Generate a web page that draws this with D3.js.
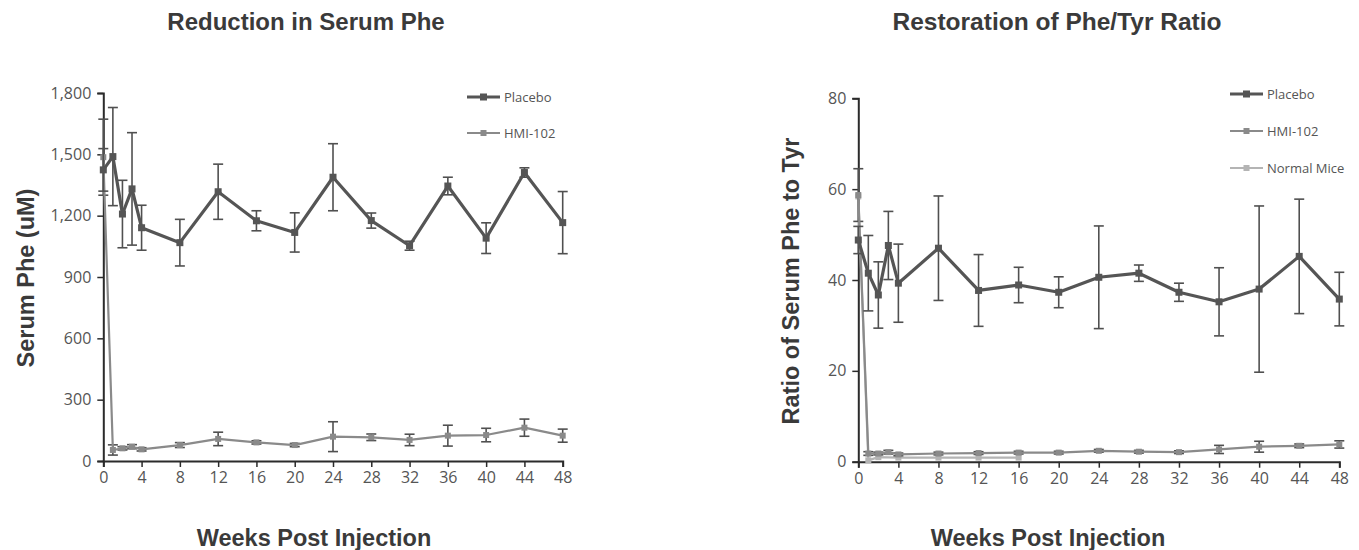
<!DOCTYPE html>
<html>
<head>
<meta charset="utf-8">
<script src="https://cdn.jsdelivr.net/npm/d3@7"></script>
<style>
  body { margin: 0; background: #fff; }
  .title, .axis-label { font-family: "Liberation Sans", Arial, sans-serif; font-weight: bold; fill: #3a3a3a; }
  .tick text, .legend text { font-family: "Open Sans", "Noto Sans", sans-serif; fill: #555; }
</style>
</head>
<body>
<svg id="chart" width="1359" height="550"></svg>
<script>
// weeks after injection, shared by both panels
const weeks = [0, 1, 2, 3, 4, 8, 12, 16, 20, 24, 28, 32, 36, 40, 44, 48];
const weekTicks = [0, 4, 8, 12, 16, 20, 24, 28, 32, 36, 40, 44, 48];

// serum Phe (uM), mean and error
const phePlacebo    = [1424, 1489, 1208, 1331, 1141, 1068, 1317, 1175, 1118, 1388, 1176, 1053, 1345, 1090, 1411, 1166];
const phePlaceboErr = [104, 240, 165, 275, 110, 114, 135, 49, 96, 164, 37, 22, 43, 75, 23, 152];
const pheHmi        = [1486, 54, 62, 70, 57, 78, 108, 91, 78, 119, 116, 103, 124, 127, 163, 124];
const pheHmiErr     = [186, 25, 8, 10, 8, 12, 33, 8, 8, 73, 16, 28, 51, 33, 42, 32];
const pheTicks = [0, 300, 600, 900, 1200, 1500, 1800];

// Phe/Tyr ratio, mean and error
const ratioPlacebo    = [48.8, 41.5, 36.7, 47.6, 39.3, 47.0, 37.7, 38.9, 37.3, 40.6, 41.5, 37.3, 35.2, 38.0, 45.2, 35.8];
const ratioPlaceboErr = [3, 8.3, 7.3, 7.5, 8.6, 11.5, 7.9, 3.9, 3.4, 11.3, 1.8, 2.0, 7.5, 18.3, 12.6, 5.9];
const ratioHmi        = [58.7, 1.8, 1.8, 2.1, 1.6, 1.8, 1.9, 2.0, 2.0, 2.4, 2.2, 2.1, 2.7, 3.3, 3.5, 3.8];
const ratioHmiErr     = [5.8, 0.4, 0.3, 0.4, 0.3, 0.3, 0.3, 0.3, 0.3, 0.3, 0.3, 0.3, 0.9, 1.2, 0.4, 0.8];
const normalWeeks = [0, 1, 2, 4, 8, 12, 16];
const ratioNormal = [58.4, 0.3, 1.0, 0.9, 0.9, 0.9, 0.9];
const ratioTicks = [0, 20, 40, 60, 80];

const colors = { placebo: "#555555", hmi: "#8a8a8a", normal: "#b4b4b4", err: "#505050" };

const svg = d3.select("#chart");

function drawPanel(p) {
    const g = svg.append("g");

    const x = d3.scaleLinear().domain([0, 48]).range([p.left, p.right]);
    const y = d3.scaleLinear().domain([0, p.yMax]).range([p.bottom, p.top]);

    // axes
    const yAxis = g.append("g")
        .attr("transform", `translate(${p.left},0)`)
        .call(d3.axisLeft(y).tickValues(p.yTicks).tickSize(6).tickPadding(6).tickFormat(p.fmt));
    const xAxis = g.append("g")
        .attr("transform", `translate(0,${p.bottom})`)
        .call(d3.axisBottom(x).tickValues(weekTicks).tickSize(6).tickPadding(5));
    [xAxis, yAxis].forEach(a => {
        a.select(".domain").attr("stroke", "#2b2b2b").attr("stroke-width", 2);
        a.selectAll(".tick line").attr("stroke", "#2b2b2b").attr("stroke-width", 1.5);
        a.selectAll(".tick text").style("font-size", "16px");
    });

    // series drawn back to front
    p.series.slice().reverse().forEach(s => {
        const pts = s.xs.map((w, i) => ({ w, v: s.values[i], e: s.err ? s.err[i] : 0 }));

        if (s.err) {
            const eb = g.append("g").selectAll("g").data(pts).enter().append("g")
                .attr("stroke", colors.err).attr("stroke-width", 1.6);
            eb.append("line")
                .attr("x1", d => x(d.w)).attr("x2", d => x(d.w))
                .attr("y1", d => y(d.v - d.e)).attr("y2", d => y(d.v + d.e));
            eb.append("line")
                .attr("x1", d => x(d.w) - 5).attr("x2", d => x(d.w) + 5)
                .attr("y1", d => y(d.v + d.e)).attr("y2", d => y(d.v + d.e));
            eb.append("line")
                .attr("x1", d => x(d.w) - 5).attr("x2", d => x(d.w) + 5)
                .attr("y1", d => y(d.v - d.e)).attr("y2", d => y(d.v - d.e));
        }

        g.append("path")
            .datum(pts)
            .attr("fill", "none")
            .attr("stroke", s.color)
            .attr("stroke-width", s.width)
            .attr("stroke-linejoin", "round")
            .attr("d", d3.line().x(d => x(d.w)).y(d => y(d.v)));

        g.append("g").selectAll("rect").data(pts).enter().append("rect")
            .attr("x", d => x(d.w) - s.mark / 2)
            .attr("y", d => y(d.v) - s.mark / 2)
            .attr("width", s.mark).attr("height", s.mark)
            .attr("fill", s.color);
    });

    // legend
    const lg = g.append("g").attr("class", "legend");
    p.series.forEach((s, i) => {
        const ly = p.legendY + i * p.legendGap;
        lg.append("line")
            .attr("x1", p.legendX).attr("x2", p.legendX + 33)
            .attr("y1", ly).attr("y2", ly)
            .attr("stroke", s.color).attr("stroke-width", s.width);
        lg.append("rect")
            .attr("x", p.legendX + 16.5 - s.mark / 2).attr("y", ly - s.mark / 2)
            .attr("width", s.mark).attr("height", s.mark)
            .attr("fill", s.color);
        lg.append("text")
            .attr("x", p.legendX + 37).attr("y", ly + 4.5)
            .style("font-size", "13px")
            .text(s.name);
    });

    // titles
    g.append("text").attr("class", "title")
        .attr("x", p.titleX).attr("y", 30)
        .attr("text-anchor", "middle")
        .style("font-size", p.titleSize + "px")
        .text(p.title);
    g.append("text").attr("class", "axis-label")
        .attr("x", p.xLabelX).attr("y", 546)
        .attr("text-anchor", "middle")
        .style("font-size", "23.5px")
        .text("Weeks Post Injection");
    g.append("text").attr("class", "axis-label")
        .attr("transform", `translate(${p.yLabelX},${p.yLabelY}) rotate(-90)`)
        .attr("text-anchor", "middle")
        .style("font-size", "23.5px")
        .text(p.yLabel);
}

drawPanel({
    left: 103.3, right: 562.7, top: 93, bottom: 461,
    yMax: 1800, yTicks: pheTicks, fmt: d3.format(","),
    title: "Reduction in Serum Phe", titleX: 306, titleSize: 24,
    xLabelX: 314, yLabel: "Serum Phe (uM)", yLabelX: 34, yLabelY: 278,
    legendX: 467, legendY: 97, legendGap: 36,
    series: [
        { name: "Placebo", xs: weeks, values: phePlacebo, err: phePlaceboErr, color: colors.placebo, width: 3.2, mark: 7 },
        { name: "HMI-102", xs: weeks, values: pheHmi, err: pheHmiErr, color: colors.hmi, width: 2.2, mark: 6 }
    ]
});

drawPanel({
    left: 858.3, right: 1339.3, top: 98.3, bottom: 461.7,
    yMax: 80, yTicks: ratioTicks, fmt: d3.format("d"),
    title: "Restoration of Phe/Tyr Ratio", titleX: 1057, titleSize: 24.5,
    xLabelX: 1048, yLabel: "Ratio of Serum Phe to Tyr", yLabelX: 799, yLabelY: 281,
    legendX: 1230, legendY: 94, legendGap: 37,
    series: [
        { name: "Placebo", xs: weeks, values: ratioPlacebo, err: ratioPlaceboErr, color: colors.placebo, width: 3.2, mark: 7 },
        { name: "HMI-102", xs: weeks, values: ratioHmi, err: ratioHmiErr, color: colors.hmi, width: 2.2, mark: 6 },
        { name: "Normal Mice", xs: normalWeeks, values: ratioNormal, color: colors.normal, width: 2.2, mark: 6 }
    ]
});
</script>
</body>
</html>
